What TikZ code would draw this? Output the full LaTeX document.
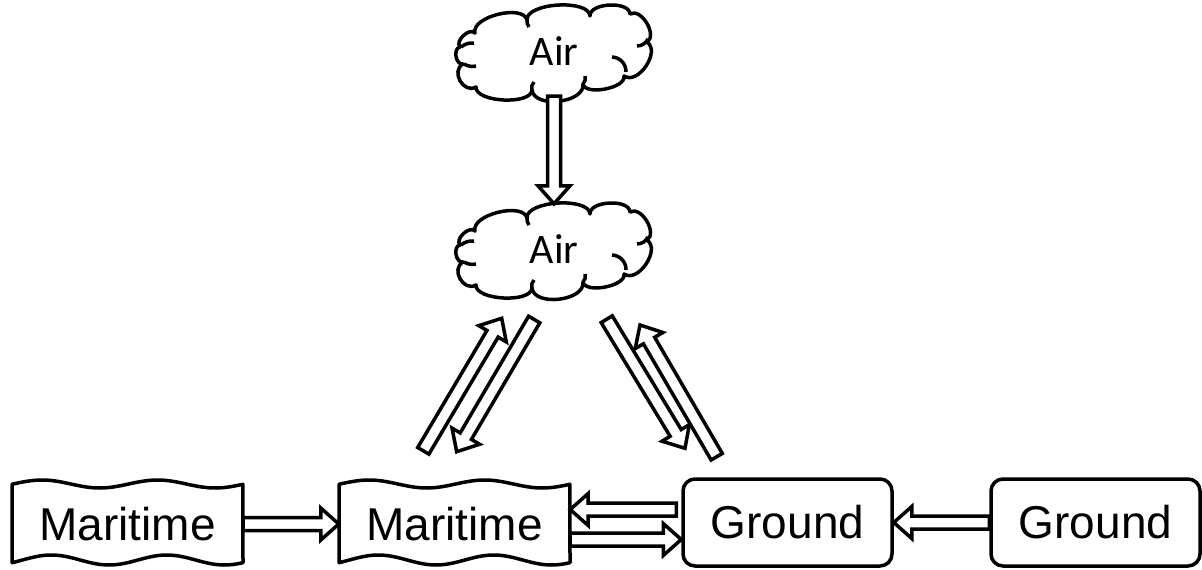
\documentclass[tikz,border=0pt]{standalone}
\usepackage{fontspec}
\setmainfont{Liberation Sans}
\newfontfamily\airfont{Carlito}
\usetikzlibrary{calc}

% geometry of the hollow block arrows
\newcommand\hashaft{6.5pt}
\newcommand\hahead{16pt}
\newcommand\halen{18pt}

% hollow block arrow from #1 to #2 (both named coordinates / anchors)
\newcommand\hollowarrow[2]{%
  \coordinate (ha-base) at ($(#2)!\halen!(#1)$);
  \draw[arrowline] ($(#1)!\hashaft!90:(#2)$) -- ($(ha-base)!\hashaft!90:(#2)$)
    -- ($(ha-base)!\hahead!90:(#2)$) -- (#2) -- ($(ha-base)!\hahead!-90:(#2)$)
    -- ($(ha-base)!\hashaft!-90:(#2)$) -- ($(#1)!\hashaft!-90:(#2)$) -- cycle;}

% double-wave outline around a centre (x, y)
\newcommand\waveoutline[2]{%
  \draw[shapeline] plot[domain=0:1,samples=61] ({#1-115.5+231*\x},{#2-40-4*cos(720*(\x-0.13))})
    -- plot[domain=1:0,samples=61] ({#1-115.5+231*\x},{#2+36-5*cos(720*(\x-0.17))}) -- cycle;}

% cloud outline around a named node
\newcommand\cloudoutline[1]{%
  \begin{scope}[shift={(#1.center)}]
    \draw[shapeline] (-78,36)
      to[bend left=90, looseness=1.4] (-91,13)
      to[bend left=90, looseness=1.1] (-94,-4)
      to[bend left=90, looseness=1.0] (-79,-18)
      to[bend left=90, looseness=0.8] (-27,-31)
      to[bend left=90, looseness=0.7] (36,-35)
      to[bend left=90, looseness=0.85] (76,-37)
      to[bend left=90, looseness=1.0] (93,-9)
      to[bend left=90, looseness=1.05] (70,25)
      to[bend left=90, looseness=0.75] (29,33)
      to[bend left=90, looseness=0.95] (-22,39)
      to[bend left=90, looseness=0.7] cycle;
    % inner curls of the puffs
    \draw[shapeline] (-93,-4) to[bend left=20] (-80,-8);
    \draw[shapeline] (-90,13) to[bend right=20] (-78,15);
    \draw[shapeline] (-22,39) to[bend left=30] (-20,31);
    \draw[shapeline] (29,33) to[bend right=30] (31,25);
    \draw[shapeline] (58,6) to[bend left=45] (72,21);
    \draw[shapeline] (94,-12) to[bend left=30] (83,-5);
    \draw[shapeline] (-27,-31) to[bend right=20] (-25,-24);
  \end{scope}}

\begin{document}
\begin{tikzpicture}[x=1pt, y=-1pt,
  shapeline/.style={line width=3.5pt, line join=round},
  arrowline/.style={line width=3.5pt, fill=white, line join=miter},
  cloudspot/.style={minimum width=198pt, minimum height=90pt, inner sep=0pt,
    font=\airfont\fontsize{42}{50}\selectfont},
  wavespot/.style={minimum width=231pt, minimum height=78pt, inner sep=0pt,
    font=\fontsize{46}{55}\selectfont},
  groundbox/.style={draw, line width=3.5pt, rounded corners=12pt,
    minimum width=209pt, minimum height=87pt, inner sep=0pt,
    font=\fontsize{46}{55}\selectfont}]
  \useasboundingbox (0,0) rectangle (1202,570);

  % air nodes
  \node[cloudspot] (air1) at (554,51) {Air};
  \node[cloudspot] (air2) at (554,249) {Air};
  \cloudoutline{air1}
  \cloudoutline{air2}

  % maritime nodes
  \node[wavespot] (m1) at (127.5,524) {Maritime};
  \node[wavespot] (m2) at (454.5,524) {Maritime};
  \waveoutline{127.5}{524}
  \waveoutline{454.5}{524}

  % ground nodes
  \node[groundbox] (g1) at (787.5,522.5) {Ground};
  \node[groundbox] (g2) at (1095.5,522.5) {Ground};

  % connectors
  \hollowarrow{air1.south}{air2.north}
  \hollowarrow{m1.east}{m2.west}
  \hollowarrow{g2.west}{g1.east}

  \coordinate (m2u) at ([yshift=14.5pt]m2.east);
  \coordinate (g1u) at ([xshift=-5pt]g1.west |- m2u);
  \coordinate (m2d) at ([yshift=-15.5pt]m2.east);
  \coordinate (g1d) at (g1.west |- m2d);
  \hollowarrow{g1u}{m2u}
  \hollowarrow{m2d}{g1d}

  % links between the air node and the lower row
  \coordinate (lu-t) at (423.3,450.8);
  \coordinate (lu-h) at (501.7,318.3);
  \coordinate (ld-t) at (534.2,319.5);
  \coordinate (ld-h) at (456.7,451.7);
  \coordinate (rd-t) at (606.7,319.2);
  \coordinate (rd-h) at (685,448.3);
  \coordinate (ru-t) at (716.7,456.7);
  \coordinate (ru-h) at (640,325);
  \hollowarrow{lu-t}{lu-h}
  \hollowarrow{ld-t}{ld-h}
  \hollowarrow{rd-t}{rd-h}
  \hollowarrow{ru-t}{ru-h}
\end{tikzpicture}
\end{document}
